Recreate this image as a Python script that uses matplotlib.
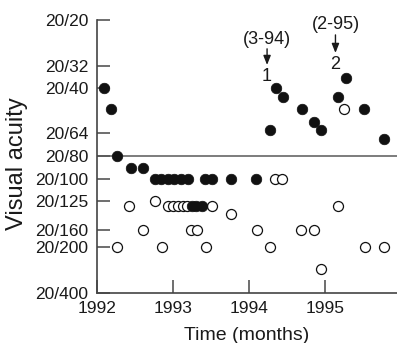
import numpy as np
import matplotlib
matplotlib.use("Agg")
import matplotlib.pyplot as plt

plt.rcParams['font.family'] = ['Liberation Sans', 'DejaVu Sans']

# acuity scale as drawn on the original chart (Snellen denominators)
tick_denoms = [20, 32, 40, 64, 80, 100, 125, 160, 200, 400]
tick_pos = [0.0, 0.203, 0.300, 0.498, 0.601, 0.702, 0.800, 0.925, 1.001, 1.204]
tick_labels = ['20/' + str(d) for d in tick_denoms]

# filled circles
years_filled = [1992.09, 1992.18, 1992.26, 1992.45, 1992.61,
                1992.76, 1992.85, 1992.93, 1993.02, 1993.11, 1993.20,
                1993.25, 1993.31, 1993.38,
                1993.42, 1993.51, 1993.76, 1994.09,
                1994.28, 1994.36, 1994.45, 1994.70, 1994.86, 1994.95,
                1995.18, 1995.28, 1995.51, 1995.78]
acuity_filled = [40, 50, 80, 90, 90,
                 100, 100, 100, 100, 100, 100,
                 130, 130, 130,
                 100, 100, 100, 100,
                 62, 40, 44, 50, 57, 62,
                 44, 36, 50, 68]

# open circles
years_open = [1992.26, 1992.42, 1992.61, 1992.76, 1992.86,
              1992.93, 1993.00, 1993.07, 1993.14, 1993.19,
              1993.24, 1993.32, 1993.43, 1993.51, 1993.76,
              1994.11, 1994.28, 1994.34, 1994.43, 1994.68,
              1994.86, 1994.95, 1995.18, 1995.25, 1995.53, 1995.78]
acuity_open = [200, 130, 160, 125, 200,
               130, 130, 130, 130, 130,
               160, 160, 200, 130, 140,
               160, 200, 100, 100, 160,
               160, 280, 130, 50, 200, 200]

# injection events
event_years = [1994.24, 1995.14]
event_dates = ['(3-94)', '(2-95)']
event_nums = ['1', '2']


def fwd(d):
    return np.interp(np.log10(d), np.log10(tick_denoms), tick_pos)


def inv(p):
    return 10 ** np.interp(p, tick_pos, np.log10(tick_denoms))


fig = plt.figure(figsize=(3.97, 3.43), dpi=100)
ax = fig.add_axes([0.244, 0.146, 0.756, 0.796])

ax.set_yscale('function', functions=(fwd, inv))
ax.set_ylim(400, 20)
ax.set_xlim(1992, 1995.95)

ax.axhline(80, color='#666666', lw=1.2, zorder=1)

ax.plot(years_open, acuity_open, 'o', ms=7.2, mfc='white', mec='#111111',
        mew=0.9, zorder=3, clip_on=False)
ax.plot(years_filled, acuity_filled, 'o', ms=7.6, mfc='#111111', mec='#111111',
        mew=0.5, zorder=4, clip_on=False)

# annotations: date, arrow, number
ytrans = ax.get_xaxis_transform()
lvl = [(0.930, 0.894, 0.835, 0.791), (0.982, 0.945, 0.879, 0.835)]
for x, date, num, (yt, ya, yb, yn) in zip(event_years, event_dates, event_nums, lvl):
    ax.text(x, yt, date, transform=ytrans, ha='center', va='center', fontsize=13, color='#1a1a1a')
    ax.annotate('', xy=(x, yb), xytext=(x, ya), xycoords=ytrans, textcoords=ytrans,
                arrowprops=dict(arrowstyle='-|>,head_length=0.55,head_width=0.22',
                                color='#1a1a1a', lw=1, shrinkA=0, shrinkB=0))
    ax.text(x, yn, num, transform=ytrans, ha='center', va='center', fontsize=13, color='#1a1a1a')

ax.set_yticks(tick_denoms)
ax.set_yticklabels(tick_labels)
ax.yaxis.set_minor_locator(matplotlib.ticker.NullLocator())
ax.set_xticks([1992, 1993, 1994, 1995])
ax.set_xticklabels(['1992', '1993', '1994', '1995'])

ax.tick_params(axis='both', direction='in', length=9.5, width=1.2, color='#555555',
               labelsize=12.5, labelcolor='#1a1a1a')
ax.tick_params(axis='y', pad=6)
ax.tick_params(axis='x', pad=6)

for s in ['top', 'right']:
    ax.spines[s].set_visible(False)
for s in ['left', 'bottom']:
    ax.spines[s].set_color('#444444')
    ax.spines[s].set_linewidth(1.2)

ax.set_xlabel('Time (months)', fontsize=14, color='#1a1a1a')
ax.set_ylabel('Visual acuity', fontsize=17, color='#1a1a1a')
ax.xaxis.set_label_coords(0.5, -0.125)
ax.yaxis.set_label_coords(-0.228, 0.474)

fig.savefig('out.png', dpi=100)
